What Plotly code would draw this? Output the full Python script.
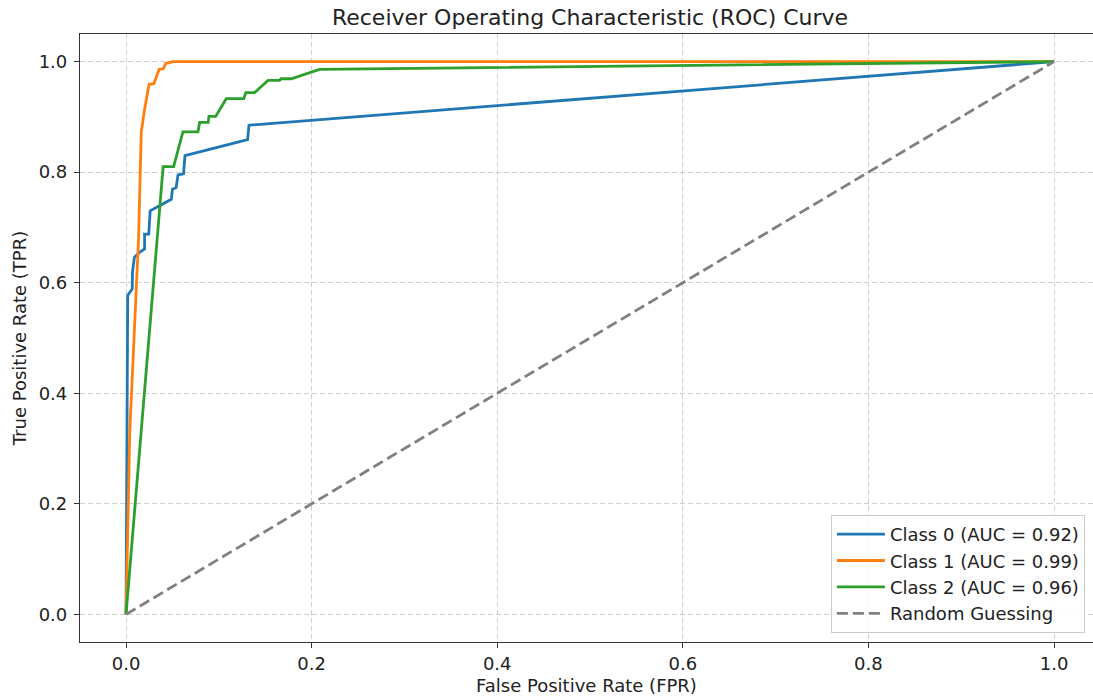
import plotly.graph_objects as go

# ---- data ----
fpr_class0 = [0, 0.0018, 0.0038, 0.0067, 0.0069, 0.009, 0.0146, 0.020, 0.020, 0.0245, 0.026,
              0.0488, 0.050, 0.054, 0.056, 0.062, 0.0635, 0.131, 0.1325, 1.0]
tpr_class0 = [0, 0.577, 0.582, 0.589, 0.619, 0.646, 0.655, 0.661, 0.688, 0.688, 0.730,
              0.751, 0.769, 0.772, 0.795, 0.797, 0.830, 0.859, 0.885, 1.0]

fpr_class1 = [0, 0.004, 0.0135, 0.0164, 0.020, 0.0248, 0.030, 0.0357, 0.040, 0.0429, 0.047, 0.050, 1.0]
tpr_class1 = [0, 0.33, 0.68, 0.872, 0.914, 0.959, 0.960, 0.986, 0.987, 0.997, 0.998, 1.0, 1.0]

fpr_class2 = [0, 0.040, 0.0513, 0.0613, 0.0775, 0.0793, 0.0885, 0.0894, 0.0966, 0.108, 0.127,
              0.129, 0.1385, 0.153, 0.1655, 0.167, 0.178, 0.2085, 1.0]
tpr_class2 = [0, 0.810, 0.810, 0.873, 0.873, 0.890, 0.890, 0.901, 0.901, 0.933, 0.933,
              0.944, 0.944, 0.966, 0.966, 0.969, 0.969, 0.986, 1.0]

random_x = [0, 1]
random_y = [0, 1]

series_names = ["Class 0 (AUC = 0.92)", "Class 1 (AUC = 0.99)", "Class 2 (AUC = 0.96)"]
series_colors = ["#1f77b4", "#ff7f0e", "#2ca02c"]

tick_vals = [0.0, 0.2, 0.4, 0.6, 0.8, 1.0]
tick_text = ["0.0", "0.2", "0.4", "0.6", "0.8", "1.0"]

FONT = "DejaVu Sans"
TXT = "#222222"

W, H = 1093, 700

fig = go.Figure()
for fx, ty, name, col in zip([fpr_class0, fpr_class1, fpr_class2],
                             [tpr_class0, tpr_class1, tpr_class2],
                             series_names, series_colors):
    fig.add_trace(go.Scatter(x=fx, y=ty, mode="lines", name=name,
                             line=dict(color=col, width=2.8)))

fig.add_trace(go.Scatter(x=random_x, y=random_y, mode="lines", name="Random Guessing",
                         line=dict(color="#808080", width=2.8, dash="11px,5px")))

axis_common = dict(
    showline=True, linecolor="#333333", linewidth=1.2,
    ticks="outside", ticklen=5, tickcolor="#333333", tickwidth=1.2,
    tickfont=dict(family=FONT, size=18, color=TXT),
    showgrid=True, gridcolor="#cfcfcf", gridwidth=1, griddash="5px,3px",
    zeroline=False, automargin=False,
    tickvals=tick_vals, ticktext=tick_text,
)

fig.update_layout(
    width=W, height=H,
    margin=dict(l=80, r=0, t=34, b=58, autoexpand=False),
    plot_bgcolor="white", paper_bgcolor="white",
    font=dict(family=FONT, size=18, color=TXT),
    title=dict(text="Receiver Operating Characteristic (ROC) Curve",
               x=0.5035, xref="paper", xanchor="center",
               y=1 - 17 / H, yref="container", yanchor="middle",
               font=dict(family=FONT, size=22, color=TXT)),
    xaxis=dict(range=[-0.0496, 1.042], mirror=True,
               title=dict(text="False Positive Rate (FPR)", standoff=6,
                          font=dict(family=FONT, size=18, color=TXT)),
               **axis_common),
    yaxis=dict(range=[-0.05, 1.05], mirror=False, ticklabelstandoff=3,
               title=dict(text="True Positive Rate (TPR)", standoff=7,
                          font=dict(family=FONT, size=18, color=TXT)),
               **axis_common),
    legend=dict(x=0.992, y=0.015, xanchor="right", yanchor="bottom",
                bgcolor="rgba(255,255,255,0.85)", bordercolor="#cccccc", borderwidth=1,
                font=dict(family=FONT, size=18, color=TXT),
                itemwidth=48, tracegroupgap=0),
    showlegend=True,
)

# remove the default 8px page margin so the 1093x700 figure fills the window exactly
fig.write_html("out.html",
               config={"displayModeBar": False},
               post_script="document.body.style.margin='0px';document.body.style.overflow='hidden';")
